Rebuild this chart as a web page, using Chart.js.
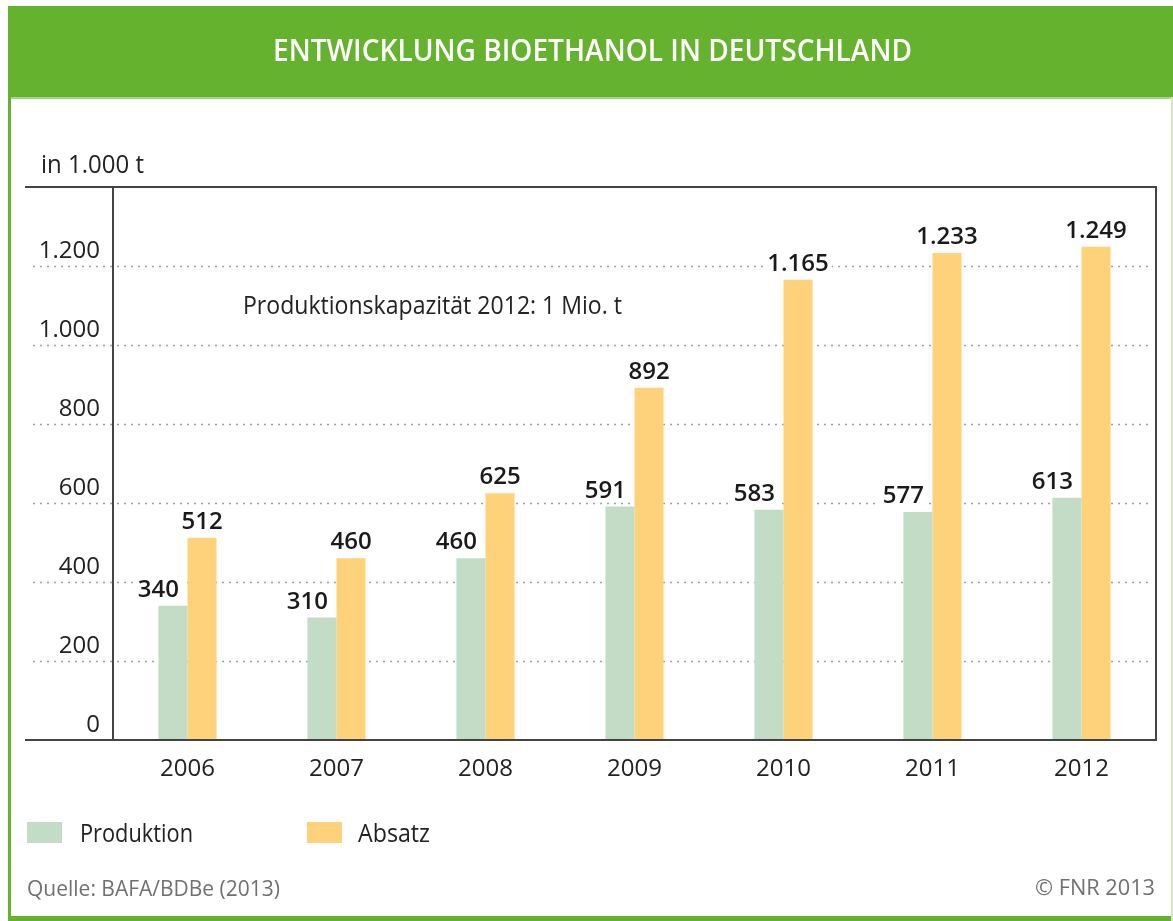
<!DOCTYPE html>
<html>
<head>
<meta charset="utf-8">
<script src="https://cdn.jsdelivr.net/npm/chart.js@4"></script>
<style>
  html, body { margin:0; padding:0; background:#fff; }
  body { width:1173px; height:921px; position:relative; overflow:hidden; font-family:"Open Sans", sans-serif; }
  #header { position:absolute; left:8px; top:6px; right:0; height:91px; background:#65b22e; border-bottom:2px solid #a9d486; }
  #lborder { position:absolute; left:8px; top:97px; width:3px; bottom:0; background:#65b22e; }
  #bborder { position:absolute; left:8px; right:0; height:5px; bottom:0; background:#65b22e; }
  #rborder { position:absolute; right:0; width:2px; top:97px; bottom:0; background:#cfe8bd; }
  #c { position:absolute; left:0; top:0; }
  .t { position:absolute; white-space:nowrap; transform-origin:0 50%; line-height:1; }
  .sw { position:absolute; width:35px; height:21px; }
</style>
</head>
<body>
<div id="header"></div>
<div id="lborder"></div>
<div id="bborder"></div>
<div id="rborder"></div>
<canvas id="c" width="1173" height="921"></canvas>
<span class="t fit" data-x="273" data-w="639" data-cy="49" style="color:#fff;font-size:31px;font-weight:600;">ENTWICKLUNG BIOETHANOL IN DEUTSCHLAND</span>
<span class="t fit" data-x="41" data-w="103" data-cy="163" style="color:#222;font-size:25px;">in 1.000 t</span>
<span class="t fit" data-x="243" data-w="379" data-cy="304" style="color:#222;font-size:25px;">Produktionskapazität 2012: 1 Mio. t</span>
<div class="sw" style="left:27px;top:822px;background:#c3dcc6;"></div>
<span class="t fit" data-x="80" data-w="113" data-cy="832" style="color:#222;font-size:25px;">Produktion</span>
<div class="sw" style="left:307px;top:822px;background:#fdd27a;"></div>
<span class="t fit" data-x="358" data-w="72" data-cy="832" style="color:#222;font-size:25px;">Absatz</span>
<span class="t fit" data-x="27" data-w="253" data-cy="887" style="color:#707070;font-size:22px;">Quelle: BAFA/BDBe (2013)</span>
<span class="t fit" data-x="1035" data-w="120" data-cy="886" style="color:#707070;font-size:22px;">© FNR 2013</span>
<script>
const years = ['2006','2007','2008','2009','2010','2011','2012'];
const produktion = [340, 310, 460, 591, 583, 577, 613];
const absatz = [512, 460, 625, 892, 1165, 1233, 1249];
const yTicks = [0, 200, 400, 600, 800, 1000, 1200, 1400];
const seriesNames = ['Produktion', 'Absatz'];

function fmt(v) {
  return String(v).replace(/\B(?=(\d{3})+(?!\d))/g, '.');
}

function fitTexts() {
  document.querySelectorAll('.fit').forEach(el => {
    el.style.transform = 'none';
    const r = el.getBoundingClientRect();
    const target = +el.dataset.w;
    el.style.left = el.dataset.x + 'px';
    el.style.top = (+el.dataset.cy - r.height / 2) + 'px';
    el.style.transform = 'scaleX(' + (target / r.width) + ')';
  });
}

const framePlugin = {
  id: 'frame',
  beforeDatasetsDraw(chart) {
    const ctx = chart.ctx, y = chart.scales.y, a = chart.chartArea;
    ctx.save();
    ctx.strokeStyle = '#a0a0a0';
    ctx.lineWidth = 1.5;
    ctx.setLineDash([2, 5]);
    yTicks.forEach(v => {
      if (v === 0 || v === yTicks[yTicks.length - 1]) return;
      const py = Math.round(y.getPixelForValue(v)) + 0.5;
      ctx.beginPath();
      ctx.moveTo(33, py);
      ctx.lineTo(a.right - 3, py);
      ctx.stroke();
    });
    ctx.restore();
  },
  afterDatasetsDraw(chart) {
    const ctx = chart.ctx, y = chart.scales.y, a = chart.chartArea;
    const top = y.getPixelForValue(yTicks[yTicks.length - 1]);
    const bottom = y.getPixelForValue(0);
    ctx.save();
    ctx.strokeStyle = '#444';
    ctx.lineWidth = 2;
    ctx.beginPath();
    ctx.moveTo(25, top); ctx.lineTo(a.right + 1, top);
    ctx.moveTo(a.right, top); ctx.lineTo(a.right, bottom);
    ctx.moveTo(25, bottom); ctx.lineTo(a.right + 1, bottom);
    ctx.moveTo(a.left, top); ctx.lineTo(a.left, bottom);
    ctx.stroke();

    ctx.font = '600 24px "Open Sans"';
    ctx.textBaseline = 'alphabetic';
    ctx.textAlign = 'center';
    chart.data.datasets.forEach((ds, di) => {
      const meta = chart.getDatasetMeta(di);
      meta.data.forEach((bar, i) => {
        const txt = fmt(ds.data[i]);
        const cx = di === 0 ? bar.x - bar.width / 2 : bar.x;
        const by = bar.y - 9;
        const w = ctx.measureText(txt).width;
        ctx.fillStyle = '#fff';
        ctx.fillRect(cx - w / 2 - 3, by - 20, w + 6, 24);
        ctx.fillStyle = '#1a1a1a';
        ctx.fillText(txt, cx, by);
      });
    });
    ctx.restore();
  }
};

Chart.defaults.font.family = '"Open Sans", sans-serif';

new Chart(document.getElementById('c'), {
  type: 'bar',
  data: {
    labels: years,
    datasets: [
      { label: seriesNames[0], data: produktion, backgroundColor: '#c3dcc6' },
      { label: seriesNames[1], data: absatz, backgroundColor: '#fdd27a' }
    ]
  },
  options: {
    responsive: false,
    animation: false,
    events: [],
    layout: { padding: { top: 187, right: 17, left: 0, bottom: 0 } },
    datasets: { bar: { categoryPercentage: 0.39, barPercentage: 1.0 } },
    plugins: { legend: { display: false }, tooltip: { enabled: false } },
    scales: {
      x: {
        grid: { display: false, drawTicks: false },
        border: { display: false },
        ticks: { color: '#222', font: { size: 24 }, padding: 15, maxRotation: 0 },
        afterFit(s) { s.height = 181; }
      },
      y: {
        min: yTicks[0],
        max: yTicks[yTicks.length - 1],
        grid: { display: false, drawTicks: false },
        border: { display: false },
        afterBuildTicks(s) { s.ticks = yTicks.map(v => ({ value: v })); },
        ticks: {
          color: '#222',
          font: { size: 24 },
          padding: 13,
          labelOffset: -15,
          callback: v => (v === yTicks[yTicks.length - 1] ? '' : fmt(v))
        },
        afterFit(s) { s.width = 113; }
      }
    }
  },
  plugins: [framePlugin]
});

fitTexts();
if (document.fonts && document.fonts.ready) document.fonts.ready.then(fitTexts);
</script>
</body>
</html>
